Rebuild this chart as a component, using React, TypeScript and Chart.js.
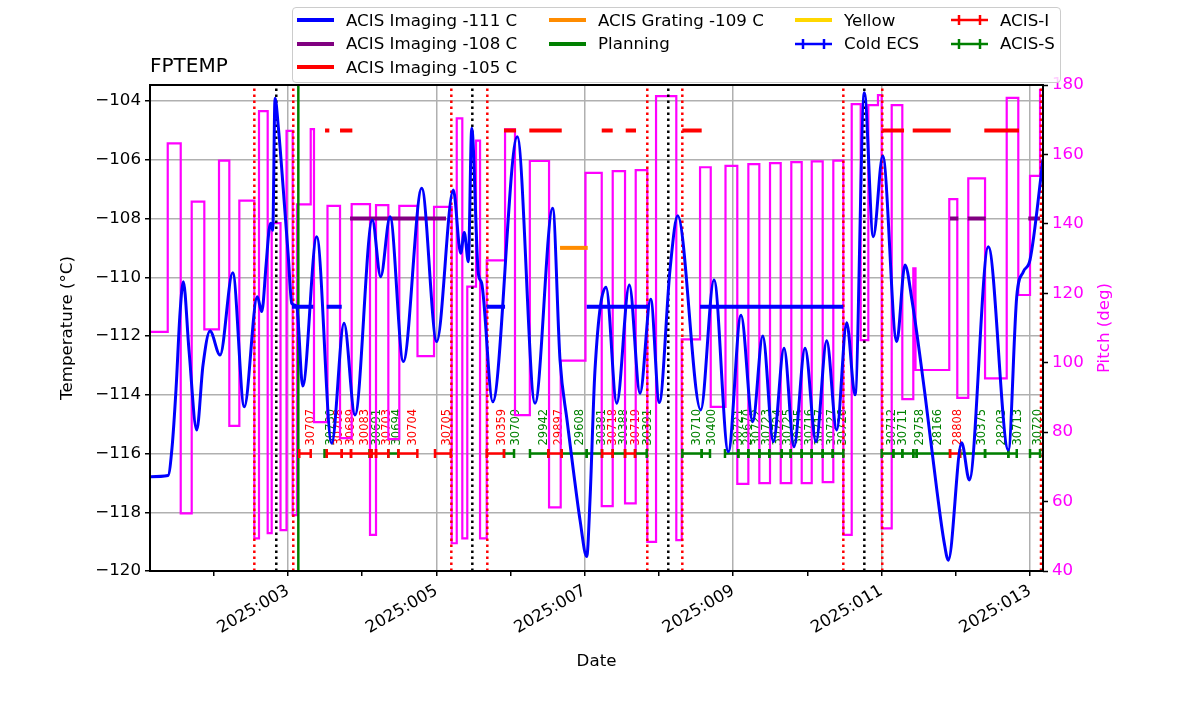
import React, { useEffect, useRef } from "react";
import { Chart, registerables } from "chart.js";

Chart.register(...registerables);

const FONT = '"DejaVu Sans", "Liberation Sans", sans-serif';
const BLUE = "#0000ff";
const PURPLE = "#800080";
const RED = "#ff0000";
const ORANGE = "#ff8c00";
const GREEN = "#008000";
const GOLD = "#ffd700";
const MAGENTA = "#ff00ff";
const GRID = "#b0b0b0";

// ---- axes ----
const X_MIN = 1.14;
const X_MAX = 13.175;
const Y_MIN = -120;
const Y_MAX = -103.455;
const PITCH_MIN = 40;
const PITCH_MAX = 180;

const xTickDays = [2, 3, 4, 5, 6, 7, 8, 9, 10, 11, 12, 13];
const xTickLabels = ["", "2025:003", "", "2025:005", "", "2025:007", "", "2025:009", "", "2025:011", "", "2025:013"];
const yTickValues = [-120, -118, -116, -114, -112, -110, -108, -106, -104];
const pitchTickValues = [40, 60, 80, 100, 120, 140, 160, 180];

// ---- FPTEMP model (day of year 2025, deg C) ----
const tempTimes = [
  1.14, 1.383, 1.437, 1.491, 1.545, 1.589, 1.666, 1.77, 1.854, 1.949, 2.084, 2.255, 2.411, 2.586, 2.646,
  2.704, 2.744, 2.767, 2.794, 2.825, 2.869, 2.937, 3.004, 3.05, 3.117, 3.198, 3.387, 3.589, 3.755, 3.903,
  4.136, 4.249, 4.375, 4.554, 4.802, 5.004, 5.228, 5.327, 5.376, 5.43, 5.476, 5.565, 5.61, 5.759, 6.09,
  6.329, 6.567, 6.666, 6.76, 6.845, 6.935, 7.026, 7.07, 7.137, 7.286, 7.43, 7.6, 7.744, 7.888, 8.004,
  8.148, 8.252, 8.562, 8.741, 8.934, 9.105, 9.263, 9.398, 9.541, 9.685, 9.819, 9.968, 10.116, 10.26,
  10.395, 10.53, 10.642, 10.767, 10.888, 11.015, 11.204, 11.315, 11.41, 11.585, 11.747, 11.841, 11.899,
  12.079, 12.182, 12.438, 12.708, 12.821, 12.91, 13.0, 13.175,
];
const tempValues = [
  -116.79, -116.75, -115.8, -113.8, -111.2, -110.15, -112.5, -115.2, -113.0, -111.83, -112.65, -109.85,
  -114.41, -110.66, -111.17, -109.6, -108.4, -108.16, -108.4, -103.91, -104.87, -107.03, -109.3, -110.89,
  -111.0, -113.7, -108.62, -115.65, -111.57, -114.69, -108.05, -109.98, -107.94, -112.87, -106.97, -112.19,
  -107.03, -109.18, -108.48, -109.47, -104.93, -109.87, -110.2, -114.24, -105.22, -114.29, -107.65, -112.82,
  -114.86, -116.56, -118.26, -119.51, -117.58, -113.16, -110.34, -114.29, -110.26, -113.95, -110.75,
  -114.26, -109.75, -107.91, -114.52, -110.09, -115.94, -111.29, -114.92, -112.0, -115.6, -112.42, -115.77,
  -112.42, -115.6, -112.16, -115.2, -111.55, -114.0, -103.72, -108.62, -105.87, -112.19, -109.58, -110.8,
  -114.0, -117.3, -119.0, -119.63, -115.63, -116.9, -108.96, -115.88, -110.66, -109.81, -109.41, -106.0,
];

// ---- pitch (deg), value holds from each time until the next ----
const pitchTimes = [
  1.14, 1.379, 1.554, 1.702, 1.872, 2.07, 2.209, 2.344, 2.546, 2.609, 2.726, 2.78, 2.899, 2.98, 3.063,
  3.121, 3.306, 3.35, 3.532, 3.701, 3.858, 4.105, 4.186, 4.352, 4.5, 4.745, 4.968, 5.206, 5.274, 5.349,
  5.416, 5.534, 5.588, 5.678, 5.925, 6.059, 6.259, 6.518, 6.675, 7.009, 7.228, 7.376, 7.542, 7.686, 7.842,
  7.96, 8.233, 8.306, 8.553, 8.697, 8.896, 9.055, 9.204, 9.352, 9.496, 9.64, 9.783, 9.923, 10.058, 10.206,
  10.349, 10.484, 10.597, 10.718, 10.821, 10.951, 11.001, 11.136, 11.279, 11.427, 11.457, 11.912, 12.02,
  12.168, 12.394, 12.686, 12.842, 13.0, 13.135,
];
const pitchValues = [
  108.9, 163.2, 56.6, 146.4, 109.6, 158.2, 81.8, 146.7, 49.4, 172.5, 50.9, 140.2, 51.8, 166.8, 56.1,
  145.6, 167.3, 82.9, 145.2, 78.3, 145.7, 50.4, 145.4, 78.0, 145.2, 101.9, 144.9, 48.0, 170.4, 49.4,
  121.9, 164.0, 49.4, 129.5, 167.2, 84.9, 158.1, 58.3, 100.6, 154.7, 58.7, 155.2, 59.5, 155.5, 48.4,
  176.8, 48.9, 106.7, 156.3, 87.3, 156.7, 65.1, 157.2, 65.3, 157.5, 65.3, 157.8, 65.3, 158.0, 65.6,
  158.2, 50.4, 174.5, 106.5, 174.2, 177.1, 52.3, 174.2, 89.5, 127.2, 97.9, 147.1, 89.9,
  153.1, 95.5, 176.3, 119.5, 153.8, 178.6,
];

// ---- limit segments ----
const acis111Start = [3.054, 3.522, 5.678, 7.026, 8.553];
const acis111Stop = [3.341, 3.724, 5.925, 7.856, 10.484];
const acis108Start = [3.836, 11.922, 12.16, 12.977];
const acis108Stop = [5.129, 12.034, 12.403, 13.135];
const acis105Start = [3.499, 3.701, 5.911, 6.252, 7.228, 7.551, 8.314, 11.009, 11.419, 12.384];
const acis105Stop = [3.557, 3.867, 6.073, 6.689, 7.376, 7.69, 8.575, 11.302, 11.931, 12.852];
const grating109Start = [6.666];
const grating109Stop = [7.039];

// ---- vertical markers ----
const radzoneTimes = [2.546, 3.071, 5.201, 5.686, 7.842, 8.314, 10.484, 11.009, 13.148];
const perigeeTimes = [2.842, 5.484, 8.125, 10.767];
const planningTimes = [3.139];

// ---- obsids ----
const OBSID_ROW = -116;
const acisIStart = [3.152, 3.522, 3.724, 3.849, 4.125, 4.186, 4.487, 4.981, 5.678, 6.508, 7.232, 7.542, 11.922];
const acisIStop = [3.306, 3.724, 3.849, 4.105, 4.186, 4.352, 4.743, 5.193, 5.911, 6.689, 7.376, 7.677, 12.057];
const acisSStart = [
  3.492, 4.098, 4.352, 5.911, 6.261, 6.689, 7.026, 7.376, 7.677, 8.314, 8.575, 8.889, 9.069, 9.204, 9.352,
  9.486, 9.654, 9.775, 9.923, 10.058, 10.206, 10.341, 11.001, 11.158, 11.279, 11.427, 11.473, 12.057,
  12.394, 12.708, 13.0,
];
const acisSStop = [
  3.522, 4.125, 4.487, 6.046, 6.508, 7.026, 7.232, 7.542, 7.834, 8.575, 8.687, 9.069, 9.204, 9.352, 9.486,
  9.654, 9.775, 9.923, 10.058, 10.206, 10.341, 10.484, 11.158, 11.279, 11.427, 11.473, 11.922, 12.394,
  12.708, 12.821, 13.135,
];
const obsidLabelTimes = [
  3.306, 3.575, 3.687, 3.845, 4.038, 4.204, 4.338, 4.473, 4.681, 5.139, 5.88, 6.073, 6.454, 6.656, 6.935,
  7.228, 7.376, 7.532, 7.686, 7.856, 8.508, 8.71, 9.078, 9.199, 9.321, 9.459, 9.608, 9.743, 9.891, 10.035,
  10.17, 10.327, 10.484, 11.136, 11.292, 11.518, 11.764, 12.034, 12.349, 12.619, 12.842, 13.112,
];
const obsidLabelIds = [
  "30707", "30730", "30708", "30689", "30083", "30691", "30703", "30694", "30704", "30705", "30359", "30709",
  "29942", "29897", "29608", "30381", "30718", "30388", "30719", "30391", "30710", "30400", "30721", "29670",
  "30722", "30723", "30724", "30725", "30715", "30716", "30717", "30727", "30726", "30712", "30711", "29758",
  "28166", "28808", "30375", "28203", "30713", "30720",
];
const obsidLabelInstr = [
  "I", "S", "I", "I", "I", "S", "I", "S", "I", "I", "I", "S", "S", "I", "S", "S", "I", "S", "I", "S", "S", "S",
  "S", "S", "S", "S", "S", "S", "S", "S", "S", "S", "S", "S", "S", "S", "S", "I", "S", "S", "S", "S",
];

// ---- legend ----
const legendLabels = [
  "ACIS Imaging -111 C", "ACIS Imaging -108 C", "ACIS Imaging -105 C", "ACIS Grating -109 C", "Planning",
  "Yellow", "Cold ECS", "ACIS-I", "ACIS-S",
];
const legendColors = [BLUE, PURPLE, RED, ORANGE, GREEN, GOLD, BLUE, RED, GREEN];
const legendKinds = ["line", "line", "line", "line", "line", "line", "err", "err", "err"];

const TITLE = "FPTEMP";
const Y_TITLE = "Temperature (°C)";
const PITCH_TITLE = "Pitch (deg)";
const X_TITLE = "Date";

type Pt = { x: number; y: number | null };

function segmentData(starts: number[], stops: number[], level: number): Pt[] {
  const out: Pt[] = [];
  starts.forEach((s, i) => {
    out.push({ x: s, y: level }, { x: stops[i], y: level }, { x: stops[i], y: null });
  });
  return out;
}

function verticalData(times: number[]): Pt[] {
  const out: Pt[] = [];
  times.forEach((t) => {
    out.push({ x: t, y: Y_MIN }, { x: t, y: Y_MAX }, { x: t, y: null });
  });
  return out;
}

const obsidLabelPlugin = {
  id: "obsidLabels",
  beforeDatasetsDraw(chart: any) {
    const { ctx, scales } = chart;
    const xs = scales.x;
    const ys = scales.y;
    const py = ys.getPixelForValue(OBSID_ROW) - 8;
    ctx.save();
    ctx.font = `11.5px ${FONT}`;
    ctx.textAlign = "left";
    ctx.textBaseline = "middle";
    obsidLabelTimes.forEach((t, i) => {
      const px = xs.getPixelForValue(t);
      ctx.save();
      ctx.translate(px, py);
      ctx.rotate(-Math.PI / 2);
      ctx.fillStyle = obsidLabelInstr[i] === "I" ? RED : GREEN;
      ctx.fillText(obsidLabelIds[i], 0, 0);
      ctx.restore();
    });
    ctx.restore();
  },
};

const framePlugin = {
  id: "frame",
  afterDraw(chart: any) {
    const { ctx, chartArea } = chart;
    ctx.save();
    ctx.strokeStyle = "#000";
    ctx.lineWidth = 2;
    ctx.strokeRect(chartArea.left, chartArea.top, chartArea.right - chartArea.left, chartArea.bottom - chartArea.top);
    // right axis title (reads bottom to top)
    ctx.translate(chartArea.right + 62, (chartArea.top + chartArea.bottom) / 2);
    ctx.rotate(-Math.PI / 2);
    ctx.font = `16.67px ${FONT}`;
    ctx.fillStyle = MAGENTA;
    ctx.textAlign = "center";
    ctx.textBaseline = "middle";
    ctx.fillText(PITCH_TITLE, 0, 0);
    ctx.restore();
  },
};

function fmtMinus(v: number) {
  return v < 0 ? "\u2212" + Math.abs(v) : String(v);
}

export default function App() {
  const canvasRef = useRef<HTMLCanvasElement | null>(null);

  useEffect(() => {
    const canvas = canvasRef.current;
    if (!canvas) return;
    const tickFont = { family: FONT, size: 16.67 };
    const chart = new Chart(canvas, {
      type: "line",
      data: {
        datasets: [
          {
            label: "FPTEMP",
            data: tempTimes.map((t, i) => ({ x: t, y: tempValues[i] })),
            yAxisID: "y",
            borderColor: BLUE,
            borderWidth: 3,
            pointRadius: 0,
            cubicInterpolationMode: "monotone",
            order: 0,
          },
          {
            label: "ACIS-I",
            data: segmentData(acisIStart, acisIStop, OBSID_ROW),
            yAxisID: "y",
            borderColor: RED,
            borderWidth: 2.5,
            pointStyle: "line",
            rotation: 90,
            pointRadius: 4.5,
            pointBorderWidth: 2.5,
            pointBorderColor: RED,
            spanGaps: false,
            order: 1,
          },
          {
            label: "ACIS-S",
            data: segmentData(acisSStart, acisSStop, OBSID_ROW),
            yAxisID: "y",
            borderColor: GREEN,
            borderWidth: 2.5,
            pointStyle: "line",
            rotation: 90,
            pointRadius: 4.5,
            pointBorderWidth: 2.5,
            pointBorderColor: GREEN,
            spanGaps: false,
            order: 1,
          },
          {
            label: "ACIS Imaging -111 C",
            data: segmentData(acis111Start, acis111Stop, -111),
            yAxisID: "y",
            borderColor: BLUE,
            borderWidth: 4,
            pointRadius: 0,
            spanGaps: false,
            order: 2,
          },
          {
            label: "ACIS Imaging -108 C",
            data: segmentData(acis108Start, acis108Stop, -108),
            yAxisID: "y",
            borderColor: PURPLE,
            borderWidth: 4,
            pointRadius: 0,
            spanGaps: false,
            order: 2,
          },
          {
            label: "ACIS Imaging -105 C",
            data: segmentData(acis105Start, acis105Stop, -105),
            yAxisID: "y",
            borderColor: RED,
            borderWidth: 4,
            pointRadius: 0,
            spanGaps: false,
            order: 2,
          },
          {
            label: "ACIS Grating -109 C",
            data: segmentData(grating109Start, grating109Stop, -109),
            yAxisID: "y",
            borderColor: ORANGE,
            borderWidth: 4,
            pointRadius: 0,
            spanGaps: false,
            order: 2,
          },
          {
            label: "radzone",
            data: verticalData(radzoneTimes),
            yAxisID: "y",
            borderColor: RED,
            borderWidth: 2.5,
            borderDash: [2.5, 3.5],
            pointRadius: 0,
            spanGaps: false,
            order: 3,
          },
          {
            label: "perigee",
            data: verticalData(perigeeTimes),
            yAxisID: "y",
            borderColor: "#000",
            borderWidth: 2.5,
            borderDash: [2.5, 3.5],
            pointRadius: 0,
            spanGaps: false,
            order: 3,
          },
          {
            label: "Planning",
            data: verticalData(planningTimes),
            yAxisID: "y",
            borderColor: GREEN,
            borderWidth: 2.5,
            pointRadius: 0,
            spanGaps: false,
            order: 4,
          },
          {
            label: "Pitch",
            data: pitchTimes
              .map((t, i) => ({ x: t, y: pitchValues[i] as number | null }))
              .concat([{ x: X_MAX, y: pitchValues[pitchValues.length - 1] }]),
            yAxisID: "y2",
            borderColor: MAGENTA,
            borderWidth: 2.2,
            pointRadius: 0,
            stepped: true,
            order: 5,
          },
        ] as any,
      },
      options: {
        animation: false,
        responsive: false,
        events: [],
        layout: { padding: { left: 54, right: 0, top: 85, bottom: 38 } },
        plugins: {
          legend: { display: false },
          tooltip: { enabled: false },
          title: { display: false },
        },
        scales: {
          x: {
            type: "linear",
            min: X_MIN,
            max: X_MAX,
            afterBuildTicks: (s: any) => {
              s.ticks = xTickDays.map((v) => ({ value: v }));
            },
            afterFit: (s: any) => {
              s.height = 105;
            },
            ticks: {
              autoSkip: false,
              maxRotation: 30,
              minRotation: 30,
              padding: 5,
              color: "#000",
              font: tickFont,
              callback: (v: any) => {
                const i = xTickDays.indexOf(Number(v));
                return i >= 0 ? xTickLabels[i] : "";
              },
            },
            grid: {
              color: (c: any) => {
                const i = c.tick ? xTickDays.indexOf(c.tick.value) : -1;
                return i >= 0 && xTickLabels[i] ? GRID : "rgba(0,0,0,0)";
              },
              lineWidth: 1.5,
              tickColor: "#000",
              tickLength: 5,
              tickWidth: 1.5,
            },
            border: { display: false },
            title: { display: true, text: X_TITLE, color: "#000", font: tickFont, padding: { top: 4, bottom: 4 } },
          },
          y: {
            type: "linear",
            position: "left",
            min: Y_MIN,
            max: Y_MAX,
            afterBuildTicks: (s: any) => {
              s.ticks = yTickValues.map((v) => ({ value: v }));
            },
            afterFit: (s: any) => {
              s.width = 96;
            },
            ticks: {
              padding: 4,
              color: "#000",
              font: tickFont,
              callback: (v: any) => fmtMinus(Number(v)),
            },
            grid: { color: GRID, lineWidth: 1.5, tickColor: "#000", tickLength: 5, tickWidth: 1.5 },
            border: { display: false },
            title: { display: true, text: Y_TITLE, color: "#000", font: tickFont, padding: { top: 4, bottom: 4 } },
          },
          y2: {
            type: "linear",
            position: "right",
            min: PITCH_MIN,
            max: PITCH_MAX,
            afterBuildTicks: (s: any) => {
              s.ticks = pitchTickValues.map((v) => ({ value: v }));
            },
            afterFit: (s: any) => {
              s.width = 157;
            },
            ticks: { padding: 4, color: MAGENTA, font: tickFont },
            grid: { drawOnChartArea: false, tickColor: "#000", tickLength: 5, tickWidth: 1.5 },
            border: { display: false },
          },
        },
      } as any,
      plugins: [obsidLabelPlugin, framePlugin],
    });
    return () => chart.destroy();
  }, []);

  const colX = [297, 549, 795, 951];
  const rowY = [20, 43.5, 67];
  const legendCol = [0, 0, 0, 1, 1, 2, 2, 3, 3];
  const legendRow = [0, 1, 2, 0, 1, 0, 1, 0, 1];

  return (
    <div style={{ position: "absolute", left: 0, top: 0, width: 1200, height: 714, background: "#fff", fontFamily: FONT }}>
      <canvas ref={canvasRef} width={1200} height={714} style={{ width: 1200, height: 714, display: "block" }} />
      <div
        style={{
          position: "absolute",
          left: 150,
          top: 55,
          fontSize: 20,
          lineHeight: "20px",
          color: "#000",
          whiteSpace: "nowrap",
        }}
      >
        {TITLE}
      </div>
      <div
        style={{
          position: "absolute",
          left: 292,
          top: 7,
          width: 767,
          height: 74,
          border: "1px solid #cccccc",
          borderRadius: 4,
          background: "rgba(255,255,255,0.8)",
        }}
      />
      {legendLabels.map((lab, i) => {
        const x = colX[legendCol[i]];
        const y = rowY[legendRow[i]];
        const c = legendColors[i];
        return (
          <div
            key={lab}
            style={{
              position: "absolute",
              left: x,
              top: y - 12,
              height: 24,
              display: "flex",
              alignItems: "center",
              whiteSpace: "nowrap",
              fontSize: 16.67,
              color: "#000",
            }}
          >
            <svg width={37} height={24} style={{ display: "block" }}>
              <line x1={0} y1={12} x2={37} y2={12} stroke={c} strokeWidth={legendKinds[i] === "err" ? 2.5 : 4} />
              {legendKinds[i] === "err" ? (
                <>
                  <line x1={8} y1={7} x2={8} y2={17} stroke={c} strokeWidth={2.5} />
                  <line x1={29} y1={7} x2={29} y2={17} stroke={c} strokeWidth={2.5} />
                </>
              ) : null}
            </svg>
            <span style={{ marginLeft: 12 }}>{lab}</span>
          </div>
        );
      })}
    </div>
  );
}
